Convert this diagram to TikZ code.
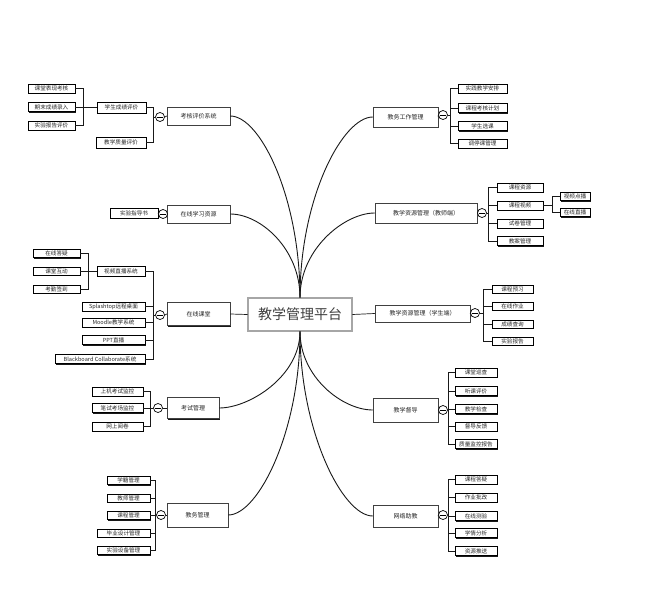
\documentclass[tikz,border=0pt]{standalone}
\usepackage{fontspec}
\setmainfont{Noto Sans CJK SC}
\usetikzlibrary{calc,shadows}
\begin{document}
\begin{tikzpicture}[x=1pt,y=-1pt,
 shad/.style={drop shadow={shadow xshift=1.1pt, shadow yshift=-1.1pt, fill=black, opacity=0.9}},
 leaf/.style={draw=black, line width=0.5pt, fill=white, inner sep=0pt, minimum height=9pt, font=\fontsize{5.6}{5.6}\selectfont, text=black!85, shad},
 branch/.style={draw=black!75, line width=0.5pt, fill=white, inner sep=0pt, font=\fontsize{6}{6}\selectfont, text=black!85, shad},
 root/.style={draw=black!85, line width=0.8pt, double=black!35, double distance=1.1pt, fill=white, inner sep=0pt, minimum width=104pt, minimum height=33pt, font=\fontsize{14}{14}\selectfont, text=black!75},
 tog/.style={circle, draw=black, fill=white, line width=0.7pt, minimum size=9pt, inner sep=0pt,
   path picture={\draw[line width=0.8pt] ([xshift=1.3pt]path picture bounding box.west) -- ([xshift=-1.3pt]path picture bounding box.east);}},
 link/.style={line width=0.7pt, black!90},
 curve/.style={line width=0.9pt, black!90}]
\fill[white] (0,0) rectangle (650,596);
\useasboundingbox (0,0) rectangle (650,596);

% root
\node[root] (root) at (300,314.5) {教学管理平台};

% branches
\node[branch, minimum width=63pt, minimum height=18pt] (b1) at (198.5,116) {考核评价系统};
\node[branch, minimum width=63pt, minimum height=18pt] (b2) at (198.5,214) {在线学习资源};
\node[branch, minimum width=63pt, minimum height=23pt] (b3) at (198.5,314) {在线课堂};
\node[branch, minimum width=52pt, minimum height=21pt] (b4) at (193,408) {考试管理};
\node[branch, minimum width=61pt, minimum height=24pt] (b5) at (197.5,515) {教务管理};
\node[branch, minimum width=65pt, minimum height=20pt] (b6) at (405.5,117) {教务工作管理};
\node[branch, minimum width=102pt, minimum height=20pt] (b7) at (426,213) {教学资源管理（教师端）};
\node[branch, minimum width=95pt, minimum height=17pt] (b8) at (422.5,313.5) {教学资源管理（学生端）};
\node[branch, minimum width=65pt, minimum height=24pt] (b9) at (405.5,410) {教学督导};
\node[branch, minimum width=65pt, minimum height=22pt] (b10) at (405.5,516) {网络助教};

% toggles
\node[tog] (t1) at (160,117) {};
\node[tog] (t2) at (163,214) {};
\node[tog] (t3) at (160,315) {};
\node[tog] (t4) at (158,408) {};
\node[tog] (t5) at (161,515) {};
\node[tog] (t6) at (443,115) {};
\node[tog] (t7) at (482,213) {};
\node[tog] (t8) at (475,313) {};
\node[tog] (t9) at (443,410) {};
\node[tog] (t10) at (443,515) {};

% bus points
\coordinate (u1) at (153,117);
\coordinate (u3) at (153,315);
\coordinate (u4) at (150,408);
\coordinate (u5) at (155,515);
\coordinate (u6) at (450,115);
\coordinate (u7) at (488,213);
\coordinate (u8) at (483,313);
\coordinate (u9) at (448,410);
\coordinate (u10) at (448,515);
\coordinate (v1) at (83,107.5);
\coordinate (v3) at (88,271);
\coordinate (v7) at (552,205.5);

% leaves B1
\node[leaf, minimum width=49pt, minimum height=11pt] (l1a) at (121.5,107.5) {学生成绩评价};
\node[leaf, minimum width=50pt, minimum height=11pt] (l1b) at (121,142.5) {教学质量评价};
\node[leaf, minimum width=47pt] (g1a) at (51.5,88.5) {课堂表现考核};
\node[leaf, minimum width=47pt] (g1b) at (51.5,107) {期末成绩录入};
\node[leaf, minimum width=47pt] (g1c) at (51.5,125.5) {实验报告评价};
% B2
\node[leaf, minimum width=48pt, minimum height=10pt] (l2a) at (134,213) {实验指导书};
% B3
\node[leaf, minimum width=48pt, minimum height=10pt] (l3a) at (121,271) {视频直播系统};
\node[leaf, minimum width=47pt, minimum height=8pt] (g3a) at (56.5,253.5) {在线答疑};
\node[leaf, minimum width=47pt, minimum height=8pt] (g3b) at (56.5,271) {课堂互动};
\node[leaf, minimum width=47pt, minimum height=8pt] (g3c) at (56.5,289) {考勤签到};
\node[leaf, minimum width=63pt] (l3b) at (113.5,306.5) {Splashtop远程桌面};
\node[leaf, minimum width=63pt] (l3c) at (113.5,322.5) {Moodle教学系统};
\node[leaf, minimum width=63pt] (l3d) at (113.5,340) {PPT直播};
\node[leaf, minimum width=90pt] (l3e) at (100,359) {Blackboard Collaborate系统};
% B4
\node[leaf, minimum width=51pt] (l4a) at (117.5,391.5) {上机考试监控};
\node[leaf, minimum width=51pt] (l4b) at (117.5,408) {笔试考场监控};
\node[leaf, minimum width=51pt] (l4c) at (117.5,426.5) {网上阅卷};
% B5
\node[leaf, minimum width=43pt, minimum height=8pt] (l5a) at (128.5,480.5) {学籍管理};
\node[leaf, minimum width=43pt, minimum height=8pt] (l5b) at (128.5,498) {教师管理};
\node[leaf, minimum width=43pt, minimum height=8pt] (l5c) at (128.5,515.5) {课程管理};
\node[leaf, minimum width=53pt, minimum height=8pt] (l5d) at (123.5,533) {毕业设计管理};
\node[leaf, minimum width=53pt, minimum height=8pt] (l5e) at (123.5,550.5) {实验设备管理};
% B6
\node[leaf, minimum width=49pt] (l6a) at (482.5,88.5) {实践教学安排};
\node[leaf, minimum width=49pt] (l6b) at (482.5,108) {课程考核计划};
\node[leaf, minimum width=49pt] (l6c) at (482.5,126) {学生选课};
\node[leaf, minimum width=49pt] (l6d) at (482.5,143.5) {调停课管理};
% B7
\node[leaf, minimum width=46pt] (l7a) at (520,187.5) {课程资源};
\node[leaf, minimum width=46pt] (l7b) at (520,205.5) {课程视频};
\node[leaf, minimum width=46pt] (l7c) at (520,223.5) {试卷管理};
\node[leaf, minimum width=46pt] (l7d) at (520,241) {教案管理};
\node[leaf, minimum width=30pt, minimum height=8pt] (g7a) at (575,196.5) {视频点播};
\node[leaf, minimum width=30pt, minimum height=8pt] (g7b) at (575,212.5) {在线直播};
% B8
\node[leaf, minimum width=41pt, minimum height=8pt] (l8a) at (512.5,289) {课程预习};
\node[leaf, minimum width=41pt, minimum height=8pt] (l8b) at (512.5,306) {在线作业};
\node[leaf, minimum width=41pt, minimum height=8pt] (l8c) at (512.5,324) {成绩查询};
\node[leaf, minimum width=41pt, minimum height=8pt] (l8d) at (512.5,341) {实验报告};
% B9
\node[leaf, minimum width=42pt] (l9a) at (476,372.5) {课堂巡查};
\node[leaf, minimum width=42pt] (l9b) at (476,391) {听课评价};
\node[leaf, minimum width=42pt] (l9c) at (476,409) {教学检查};
\node[leaf, minimum width=42pt] (l9d) at (476,426.5) {督导反馈};
\node[leaf, minimum width=42pt] (l9e) at (476,444) {质量监控报告};
% B10
\node[leaf, minimum width=42pt] (l10a) at (476,479.5) {课程答疑};
\node[leaf, minimum width=42pt] (l10b) at (476,497.5) {作业批改};
\node[leaf, minimum width=42pt] (l10c) at (476,516) {在线测验};
\node[leaf, minimum width=42pt] (l10d) at (476,533) {学情分析};
\node[leaf, minimum width=42pt] (l10e) at (476,551) {资源推送};

% main curves
\draw[curve] (b1.east) .. controls ($(b1.east)+(30,0)$) and ($(root.north)+(0,-100)$) .. (root.north);
\draw[curve] (b2.east) .. controls ($(b2.east)+(30,0)$) and ($(root.north)+(0,-49)$) .. (root.north);
\draw[link] (b3.east) -- (root.west);
\draw[curve] (b4.east) .. controls ($(b4.east)+(30,0)$) and ($(root.south)+(0,45)$) .. (root.south);
\draw[curve] (b5.east) .. controls ($(b5.east)+(30,0)$) and ($(root.south)+(0,100)$) .. (root.south);
\draw[curve] (b6.west) .. controls ($(b6.west)+(-30,0)$) and ($(root.north)+(0,-100)$) .. (root.north);
\draw[curve] (b7.west) .. controls ($(b7.west)+(-30,0)$) and ($(root.north)+(0,-49)$) .. (root.north);
\draw[link] (root.east) -- (b8.west);
\draw[curve] (b9.west) .. controls ($(b9.west)+(-30,0)$) and ($(root.south)+(0,46)$) .. (root.south);
\draw[curve] (b10.west) .. controls ($(b10.west)+(-30,0)$) and ($(root.south)+(0,100)$) .. (root.south);

% branch to toggle
\draw[link] (b1.west) -- (t1.east);
\draw[link] (b2.west) -- (t2.east);
\draw[link] (b3.west) -- (t3.east);
\draw[link] (b4.west) -- (t4.east);
\draw[link] (b5.west) -- (t5.east);
\draw[link] (b6.east) -- (t6.west);
\draw[link] (b7.east) -- (t7.west);
\draw[link] (b8.east) -- (t8.west);
\draw[link] (b9.east) -- (t9.west);
\draw[link] (b10.east) -- (t10.west);

% toggle to buses and children
\draw[link] (t1.west) -- (u1);
\draw[link] (u1) |- (l1a.east);
\draw[link] (u1) |- (l1b.east);
\draw[link] (l1a.west) -- (v1);
\draw[link] (v1) |- (g1a.east);
\draw[link] (v1) |- (g1b.east);
\draw[link] (v1) |- (g1c.east);

\draw[link] (t2.west) -- (l2a.east);

\draw[link] (t3.west) -- (u3);
\draw[link] (u3) |- (l3a.east);
\draw[link] (u3) |- (l3b.east);
\draw[link] (u3) |- (l3c.east);
\draw[link] (u3) |- (l3d.east);
\draw[link] (u3) |- (l3e.east);
\draw[link] (l3a.west) -- (v3);
\draw[link] (v3) |- (g3a.east);
\draw[link] (v3) -- (g3b.east);
\draw[link] (v3) |- (g3c.east);

\draw[link] (t4.west) -- (u4);
\draw[link] (u4) |- (l4a.east);
\draw[link] (u4) -- (l4b.east);
\draw[link] (u4) |- (l4c.east);

\draw[link] (t5.west) -- (u5);
\draw[link] (u5) |- (l5a.east);
\draw[link] (u5) |- (l5b.east);
\draw[link] (u5) |- (l5c.east);
\draw[link] (u5) |- (l5d.east);
\draw[link] (u5) |- (l5e.east);

\draw[link] (t6.east) -- (u6);
\draw[link] (u6) |- (l6a.west);
\draw[link] (u6) |- (l6b.west);
\draw[link] (u6) |- (l6c.west);
\draw[link] (u6) |- (l6d.west);

\draw[link] (t7.east) -- (u7);
\draw[link] (u7) |- (l7a.west);
\draw[link] (u7) |- (l7b.west);
\draw[link] (u7) |- (l7c.west);
\draw[link] (u7) |- (l7d.west);
\draw[link] (l7b.east) -- (v7);
\draw[link] (v7) |- (g7a.west);
\draw[link] (v7) |- (g7b.west);

\draw[link] (t8.east) -- (u8);
\draw[link] (u8) |- (l8a.west);
\draw[link] (u8) |- (l8b.west);
\draw[link] (u8) |- (l8c.west);
\draw[link] (u8) |- (l8d.west);

\draw[link] (t9.east) -- (u9);
\draw[link] (u9) |- (l9a.west);
\draw[link] (u9) |- (l9b.west);
\draw[link] (u9) |- (l9c.west);
\draw[link] (u9) |- (l9d.west);
\draw[link] (u9) |- (l9e.west);

\draw[link] (t10.east) -- (u10);
\draw[link] (u10) |- (l10a.west);
\draw[link] (u10) |- (l10b.west);
\draw[link] (u10) |- (l10c.west);
\draw[link] (u10) |- (l10d.west);
\draw[link] (u10) |- (l10e.west);
\end{tikzpicture}
\end{document}
